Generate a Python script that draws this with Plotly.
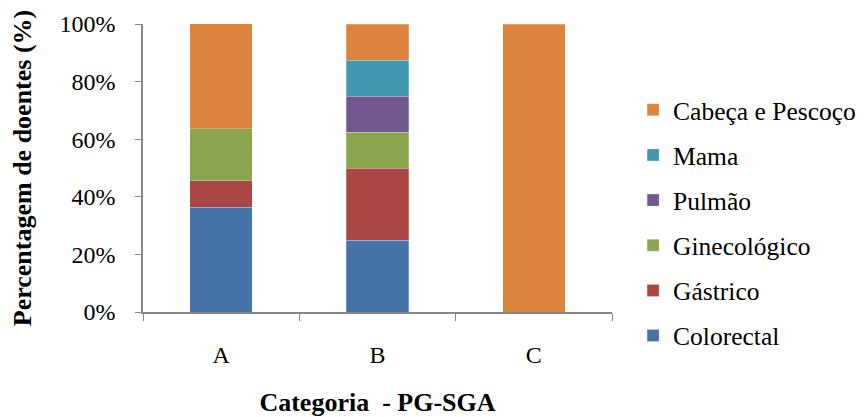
import plotly.graph_objects as go

categories = ["A", "B", "C"]
series_names = ["Colorectal", "Gástrico", "Ginecológico", "Pulmão", "Mama", "Cabeça e Pescoço"]
colorectal = [36.4, 25.0, 0.0]
gastrico = [9.1, 25.0, 0.0]
ginecologico = [18.2, 12.5, 0.0]
pulmao = [0.0, 12.5, 0.0]
mama = [0.0, 12.5, 0.0]
cabeca = [36.4, 12.5, 100.0]
colors = ["#4572A7", "#AA4643", "#89A54E", "#71588F", "#4198AF", "#DB843D"]
y_ticks = [0, 20, 40, 60, 80, 100]
y_tick_labels = ["0%", "20%", "40%", "60%", "80%", "100%"]

values = [colorectal, gastrico, ginecologico, pulmao, mama, cabeca]

FONT = "Liberation Serif"
AXIS_COLOR = "#878787"

fig = go.Figure()
n = len(series_names)
for i, (name, vals, col) in enumerate(zip(series_names, values, colors)):
    fig.add_trace(go.Bar(
        x=categories, y=vals, name=name,
        marker=dict(color=col, line=dict(color="rgba(255,255,255,0.5)", width=0.5)),
        legendgroup=name, legendrank=n - i,
    ))

fig.update_layout(
    barmode="stack",
    bargap=0.6,
    width=867, height=417,
    margin=dict(l=135, r=263, t=16, b=113, autoexpand=False),
    paper_bgcolor="white", plot_bgcolor="white",
    font=dict(family=FONT, size=24, color="black"),
    legend=dict(
        x=1.045, xanchor="left", y=0.31, yanchor="middle",
        traceorder="grouped", tracegroupgap=9,
        font=dict(family=FONT, size=25.5, color="black"),
        itemwidth=30,
    ),
    xaxis=dict(
        automargin=False,
        showline=True, linecolor=AXIS_COLOR, linewidth=1.5,
        ticks="outside", tickson="boundaries", ticklen=7, tickcolor=AXIS_COLOR,
        showgrid=False,
        tickfont=dict(family=FONT, size=24),
        ticklabelstandoff=20,
        title=dict(text="<b>Categoria  - PG-SGA</b>", font=dict(family=FONT, size=26), standoff=26),
    ),
    yaxis=dict(
        automargin=False,
        range=[0, 100], tickvals=y_ticks, ticktext=y_tick_labels,
        showline=True, linecolor=AXIS_COLOR, linewidth=1.5,
        ticks="outside", ticklen=6, tickcolor=AXIS_COLOR,
        showgrid=False, zeroline=False,
        tickfont=dict(family=FONT, size=24),
        ticklabelstandoff=15,
        title=dict(text="<b>Percentagem de doentes (%)</b>", font=dict(family=FONT, size=26), standoff=20),
    ),
)

fig.write_html("out.html")
